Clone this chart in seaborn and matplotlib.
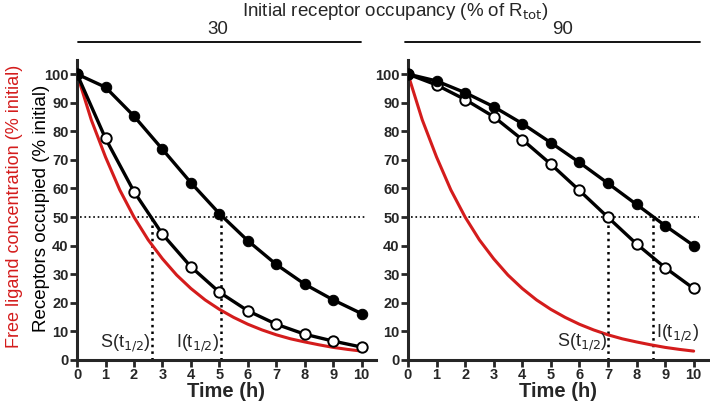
import numpy as np
import pandas as pd
import matplotlib
matplotlib.use("Agg")
import matplotlib.pyplot as plt
import seaborn as sns

# time points for receptor curves (h)
time_h = [0, 1, 2, 3, 4, 5, 6, 7, 8, 9, 10]

# 30% initial occupancy
occ30_filled = [100, 95.4, 85.3, 73.7, 62.0, 51.2, 41.7, 33.4, 26.5, 21.0, 16.2]
occ30_open = [100, 77.5, 58.9, 44.0, 32.6, 23.7, 17.2, 12.5, 9.0, 6.6, 4.5]

# 90% initial occupancy
occ90_filled = [100, 97.6, 93.5, 88.6, 82.7, 76.0, 69.1, 61.8, 54.4, 47.0, 40.0]
occ90_open = [100, 96.2, 91.1, 85.1, 77.1, 68.5, 59.3, 49.9, 40.6, 32.3, 25.0]

# free ligand concentration (read at half-hour steps)
lig_time = [0, 0.5, 1, 1.5, 2, 2.5, 3, 3.5, 4, 4.5, 5, 5.5, 6, 6.5, 7, 7.5,
            8, 8.5, 9, 9.5, 10]
lig_conc = [100, 84, 71, 59.5, 50, 42, 35.4, 29.7, 25, 21, 17.7, 14.9, 12.5,
            10.5, 8.8, 7.4, 6.3, 5.3, 4.4, 3.7, 3.1]

# half-life markers: (x, top y)
s_half = {"30": (2.62, 50), "90": (7.0, 50)}
i_half = {"30": (5.07, 51), "90": (8.58, 50)}

panels = ["30", "90"]
filled = {"30": occ30_filled, "90": occ90_filled}
opened = {"30": occ30_open, "90": occ90_open}

sns.set_theme(style="ticks")
plt.rcParams["font.family"] = ["Liberation Sans", "DejaVu Sans"]

fig = plt.figure(figsize=(7.1, 4.04), dpi=100)
ax_pos = {"30": [0.1085, 0.109, 0.421, 0.743],
          "90": [0.5746, 0.109, 0.4225, 0.743]}

lig_df = pd.DataFrame({"t": lig_time, "c": lig_conc})

for p in panels:
    ax = fig.add_axes(ax_pos[p])
    df = pd.DataFrame({"t": time_h, "filled": filled[p], "open": opened[p]})

    sns.lineplot(data=lig_df, x="t", y="c", ax=ax, color="#d41c1c", lw=2.2,
                 zorder=2)
    sns.lineplot(data=df, x="t", y="open", ax=ax, color="black", lw=2.4,
                 marker="o", markersize=7.5, markerfacecolor="white",
                 markeredgecolor="black", markeredgewidth=1.4, zorder=4)
    sns.lineplot(data=df, x="t", y="filled", ax=ax, color="black", lw=2.4,
                 marker="o", markersize=7.5, markerfacecolor="black",
                 markeredgecolor="black", zorder=5)

    ax.plot([0.1, 10.2], [50, 50], ls=":", color="black", lw=1.2, zorder=1)
    for xv, yv in (s_half[p], i_half[p]):
        ax.plot([xv, xv], [0, yv], ls=":", color="black", lw=1.8, zorder=1)

    ax.set_xlim(0, 10.5)
    ax.set_ylim(0, 105)
    ax.set_xticks(range(0, 11))
    ax.set_yticks(range(0, 101, 10))
    ax.tick_params(direction="out", length=5, width=2, labelsize=10.5, pad=1)
    for lab in ax.get_xticklabels() + ax.get_yticklabels():
        lab.set_fontweight("bold")
    for s in ("left", "bottom"):
        ax.spines[s].set_linewidth(2.2)
    sns.despine(ax=ax)
    ax.set_xlabel("Time (h)", fontsize=14.5, fontweight="bold", labelpad=0)
    ax.set_ylabel("")

    if p == "30":
        ax.text(1.7, 6, r"S(t$_{1/2}$)", fontsize=13, ha="center", va="center")
        ax.text(4.25, 6, r"I(t$_{1/2}$)", fontsize=13, ha="center", va="center")
    else:
        ax.text(6.1, 6.3, r"S(t$_{1/2}$)", fontsize=13, ha="center", va="center")
        ax.text(9.45, 9.5, r"I(t$_{1/2}$)", fontsize=13, ha="center", va="center")

# header
fig.text(0.556, 0.972, r"Initial receptor occupancy (% of R$_{\mathrm{tot}}$)",
         fontsize=13.5, ha="center", va="center")
fig.text(0.307, 0.926, "30", fontsize=13.5, ha="center", va="center")
fig.text(0.792, 0.926, "90", fontsize=13.5, ha="center", va="center")
fig.add_artist(plt.Line2D([0.110, 0.508], [0.895, 0.895], color="black", lw=1.3))
fig.add_artist(plt.Line2D([0.571, 0.986], [0.895, 0.895], color="black", lw=1.3))

# y labels
fig.text(0.02, 0.49, "Free ligand concentration (% initial)", rotation=90,
         fontsize=13, color="#d41c1c", ha="center", va="center")
fig.text(0.058, 0.485, "Receptors occupied (% initial)", rotation=90,
         fontsize=13.5, color="black", ha="center", va="center")

fig.savefig("out.png", dpi=100)
